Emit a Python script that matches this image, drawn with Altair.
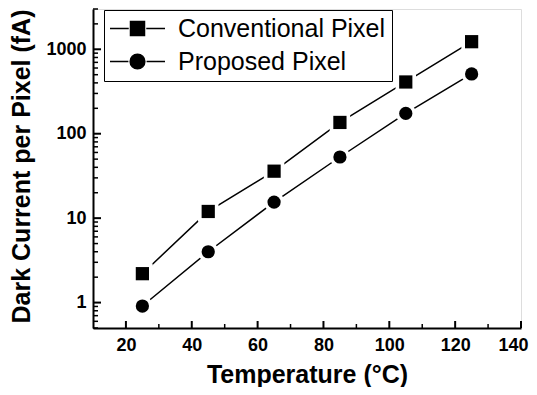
import altair as alt
import pandas as pd

temps = [25, 45, 65, 85, 105, 125]
conventional = [2.2, 12, 36, 136, 410, 1230]
proposed = [0.91, 4.0, 15.5, 53, 174, 510]
series_names = ["Conventional Pixel", "Proposed Pixel"]

x_major = [20, 40, 60, 80, 100, 120, 140]
x_minor = [30, 50, 70, 90, 110, 130]
y_major = [1, 10, 100, 1000]
y_minor = [0.5, 0.6, 0.7, 0.8, 0.9,
           2, 3, 4, 5, 6, 7, 8, 9,
           20, 30, 40, 50, 60, 70, 80, 90,
           200, 300, 400, 500, 600, 700, 800, 900,
           2000, 3000]

rows = []
for t, v in zip(temps, conventional):
    rows.append({"T": t, "I": v, "series": series_names[0]})
for t, v in zip(temps, proposed):
    rows.append({"T": t, "I": v, "series": series_names[1]})
df = pd.DataFrame(rows)

W, H = 428, 319
FONT = "Liberation Sans"

xs = alt.Scale(domain=[10, 140], nice=False, zero=False)
ys = alt.Scale(type="log", domain=[0.5, 3000], nice=False)

# legend symbol paths (unit = 7px); lines extend to +-27.5px
sq_path = ("M-3.93,0H-1.25M1.25,0H3.93"
           "M-1,-1H1V1H-1Z")
ci_path = ("M-3.93,0H-1.3M1.3,0H3.93"
           "M-1.05,0A1.05,1.05,0,1,1,1.05,0A1.05,1.05,0,1,1,-1.05,0Z")

base = alt.Chart(df)
shape_scale = alt.Scale(domain=series_names, range=["square", "circle"])

lines = base.mark_line(color="black", strokeWidth=1.5).encode(
    x=alt.X("T:Q", scale=xs, axis=alt.Axis(
        orient="bottom", values=x_major, format="d", tickSize=0,
        labelFlush=True, labelFlushOffset=7,
        labelFont=FONT, labelFontSize=18, labelFontWeight="bold", labelColor="black",
        labelPadding=8, domainColor="black", domainWidth=2, grid=False,
        title="Temperature (°C)", titleFont=FONT, titleFontSize=25,
        titleFontWeight="bold", titleColor="black", titleX=214, titleY=54,
        titleBaseline="alphabetic")),
    y=alt.Y("I:Q", scale=ys, axis=alt.Axis(
        orient="left", values=y_major, format="d", tickSize=0, labelFlush=False,
        labelFont=FONT, labelFontSize=18, labelFontWeight="bold", labelColor="black",
        labelPadding=7, domainColor="black", domainWidth=2, grid=False,
        title="Dark Current per Pixel (fA)", titleFont=FONT, titleFontSize=25,
        titleFontWeight="bold", titleColor="black", titleX=-72, titleY=157,
        titleBaseline="middle", titleAngle=270)),
    detail="series:N",
)

# white halo behind markers (gives the gap in the lines)
halo = base.mark_point(filled=True, color="white", opacity=1, size=420).encode(
    x=alt.X("T:Q", scale=xs, axis=None),
    y=alt.Y("I:Q", scale=ys, axis=None),
    shape=alt.Shape("series:N", scale=shape_scale, legend=None),
)

points = base.mark_point(filled=True, color="black", opacity=1, size=175).encode(
    x=alt.X("T:Q", scale=xs, axis=None),
    y=alt.Y("I:Q", scale=ys, axis=None),
    shape=alt.Shape("series:N", scale=shape_scale, legend=None),
)

# inward-pointing axis ticks (major and minor), positioned by the scales
ymaj_ticks = alt.Chart(pd.DataFrame({"v": y_major})).mark_rule(color="black", strokeWidth=2).encode(
    y=alt.Y("v:Q", scale=ys, axis=None), x=alt.value(0), x2=alt.value(8))
ymin_ticks = alt.Chart(pd.DataFrame({"v": y_minor})).mark_rule(color="black", strokeWidth=1.5).encode(
    y=alt.Y("v:Q", scale=ys, axis=None), x=alt.value(0), x2=alt.value(5))
xmaj_ticks = alt.Chart(pd.DataFrame({"v": x_major})).mark_rule(color="black", strokeWidth=2).encode(
    x=alt.X("v:Q", scale=xs, axis=None), y=alt.value(H), y2=alt.value(H - 7))
xmin_ticks = alt.Chart(pd.DataFrame({"v": x_minor})).mark_rule(color="black", strokeWidth=1.5).encode(
    x=alt.X("v:Q", scale=xs, axis=None), y=alt.value(H), y2=alt.value(H - 4))

legend_layer = base.transform_filter("false").mark_point(
    filled=False, color="black", fill="black", opacity=1, strokeWidth=1.5
).encode(
    shape=alt.Shape("series:N", scale=alt.Scale(domain=series_names, range=[sq_path, ci_path]),
                    legend=alt.Legend(
                        orient="none", legendX=11, legendY=1, title=None,
                        strokeColor="black", fillColor="white", padding=6,
                        labelFont=FONT, labelFontSize=25, labelColor="black",
                        symbolSize=196, symbolOffset=15, labelOffset=28,
                        symbolStrokeWidth=1.5, symbolFillColor="black",
                        rowPadding=7, labelLimit=400)),
)

chart = alt.layer(
    lines, halo, points, ymaj_ticks, ymin_ticks, xmaj_ticks, xmin_ticks, legend_layer
).resolve_scale(
    shape="independent"
).resolve_axis(x="independent", y="independent").properties(
    width=W, height=H,
    autosize=alt.AutoSizeParams(type="none"),
    padding={"left": 85, "top": 1, "right": 8, "bottom": 59},
).configure_view(stroke=None).configure(background="white")

chart.save("out.html", embed_options={"renderer": "svg", "actions": False})
